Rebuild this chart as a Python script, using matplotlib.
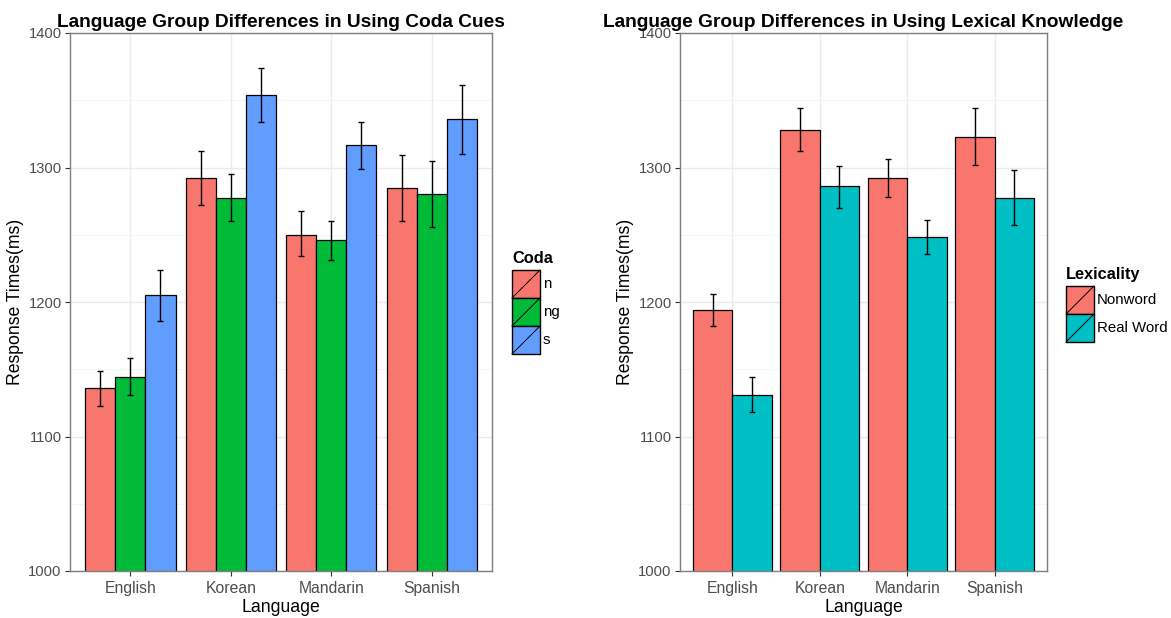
import numpy as np
import matplotlib
matplotlib.use('Agg')
import matplotlib.pyplot as plt
from matplotlib.patches import Rectangle
from matplotlib.lines import Line2D
from matplotlib.ticker import FixedLocator

plt.rcParams['font.family'] = ['Liberation Sans', 'DejaVu Sans']

W, H = 1171, 618

languages = ['English', 'Korean', 'Mandarin', 'Spanish']

# coda cue condition: mean response time and error bar ends (ms)
coda_levels = ['n', 'ng', 's']
coda_colours = ['#F8766D', '#00BA38', '#619CFF']
coda_mean = [[1136, 1292, 1250, 1285],
             [1144, 1277, 1246, 1280],
             [1205, 1354, 1317, 1336]]
coda_low = [[1123, 1272, 1234, 1260],
            [1131, 1260, 1231, 1256],
            [1186, 1334, 1299, 1310]]
coda_high = [[1149, 1312, 1268, 1309],
             [1158, 1295, 1260, 1305],
             [1224, 1374, 1334, 1361]]

# lexicality condition
lex_levels = ['Nonword', 'Real Word']
lex_colours = ['#F8766D', '#00BFC4']
lex_mean = [[1194, 1328, 1292, 1323],
            [1131, 1286, 1248, 1277]]
lex_low = [[1182, 1312, 1278, 1302],
           [1118, 1270, 1236, 1257]]
lex_high = [[1206, 1344, 1306, 1344],
            [1144, 1301, 1261, 1298]]

TICK_COL = '#4D4D4D'


def draw_panel(ax, title, means, lows, highs, colours):
  x = np.arange(1, len(languages) + 1)
  n = len(means)
  width = 0.9 / n
  for i in range(n):
    pos = x - 0.45 + width * (i + 0.5)
    m = np.array(means[i])
    ax.bar(pos, m, width=width, color=colours[i], edgecolor='black',
           linewidth=0.9, zorder=2)
    err = [m - np.array(lows[i]), np.array(highs[i]) - m]
    ax.errorbar(pos, m, yerr=err, fmt='none', ecolor='black',
                elinewidth=1.0, capsize=2.5, capthick=1.0, zorder=3)
  ax.set_xlim(0.4, len(languages) + 0.6)
  ax.set_ylim(1000, 1400)
  ax.set_xticks(x)
  ax.set_xticklabels(languages)
  ax.set_yticks([1000, 1100, 1200, 1300, 1400])
  ax.yaxis.set_minor_locator(FixedLocator([1050, 1150, 1250, 1350]))
  ax.grid(which='major', color='#EBEBEB', linewidth=1.0, zorder=0)
  ax.grid(which='minor', axis='y', color='#F4F4F4', linewidth=0.6, zorder=0)
  ax.set_axisbelow(True)
  ax.tick_params(which='minor', length=0)
  ax.tick_params(which='major', length=3.5, width=0.8, color='#333333',
                 labelcolor=TICK_COL)
  ax.tick_params(axis='y', labelsize=10.6, pad=2.5)
  ax.tick_params(axis='x', labelsize=11.3, pad=4)
  for s in ax.spines.values():
    s.set_color('#7F7F7F')
    s.set_linewidth(1.0)
  ax.set_title(title, fontsize=13.8, fontweight='bold', pad=4)
  ax.set_xlabel('Language', fontsize=12.7, labelpad=2)
  ax.set_ylabel('Response Times(ms)', fontsize=12.7, labelpad=3)


def px(x, y):
  return x / W, 1 - y / H


def draw_legend(fig, title, levels, colours, left, top, key=28):
  tx, ty = px(left, top)
  fig.text(tx, ty, title, fontsize=11.8, fontweight='bold',
           ha='left', va='bottom')
  for i, (lab, col) in enumerate(zip(levels, colours)):
    y0 = top + 4 + i * key
    x0, y1 = px(left, y0 + key)
    fig.add_artist(Rectangle((x0, y1), key / W, key / H, facecolor=col,
                             edgecolor='black', linewidth=1.0,
                             transform=fig.transFigure))
    fig.add_artist(Line2D([x0, x0 + key / W], [y1, y1 + key / H],
                          color='black', linewidth=0.7,
                          transform=fig.transFigure))
    lx, ly = px(left + key + 3, y0 + key / 2)
    fig.text(lx, ly, lab, fontsize=10.8, color='black',
             ha='left', va='center')


fig = plt.figure(figsize=(W / 100, H / 100), dpi=100)
ax1 = fig.add_axes([70 / W, (H - 571) / H, 422 / W, 538 / H])
ax2 = fig.add_axes([680 / W, (H - 571) / H, 367 / W, 538 / H])

draw_panel(ax1, 'Language Group Differences in Using Coda Cues',
           coda_mean, coda_low, coda_high, coda_colours)
draw_panel(ax2, 'Language Group Differences in Using Lexical Knowledge',
           lex_mean, lex_low, lex_high, lex_colours)

draw_legend(fig, 'Coda', coda_levels, coda_colours, 512, 266)
draw_legend(fig, 'Lexicality', lex_levels, lex_colours, 1066, 282)

fig.savefig('out.png', dpi=100)
